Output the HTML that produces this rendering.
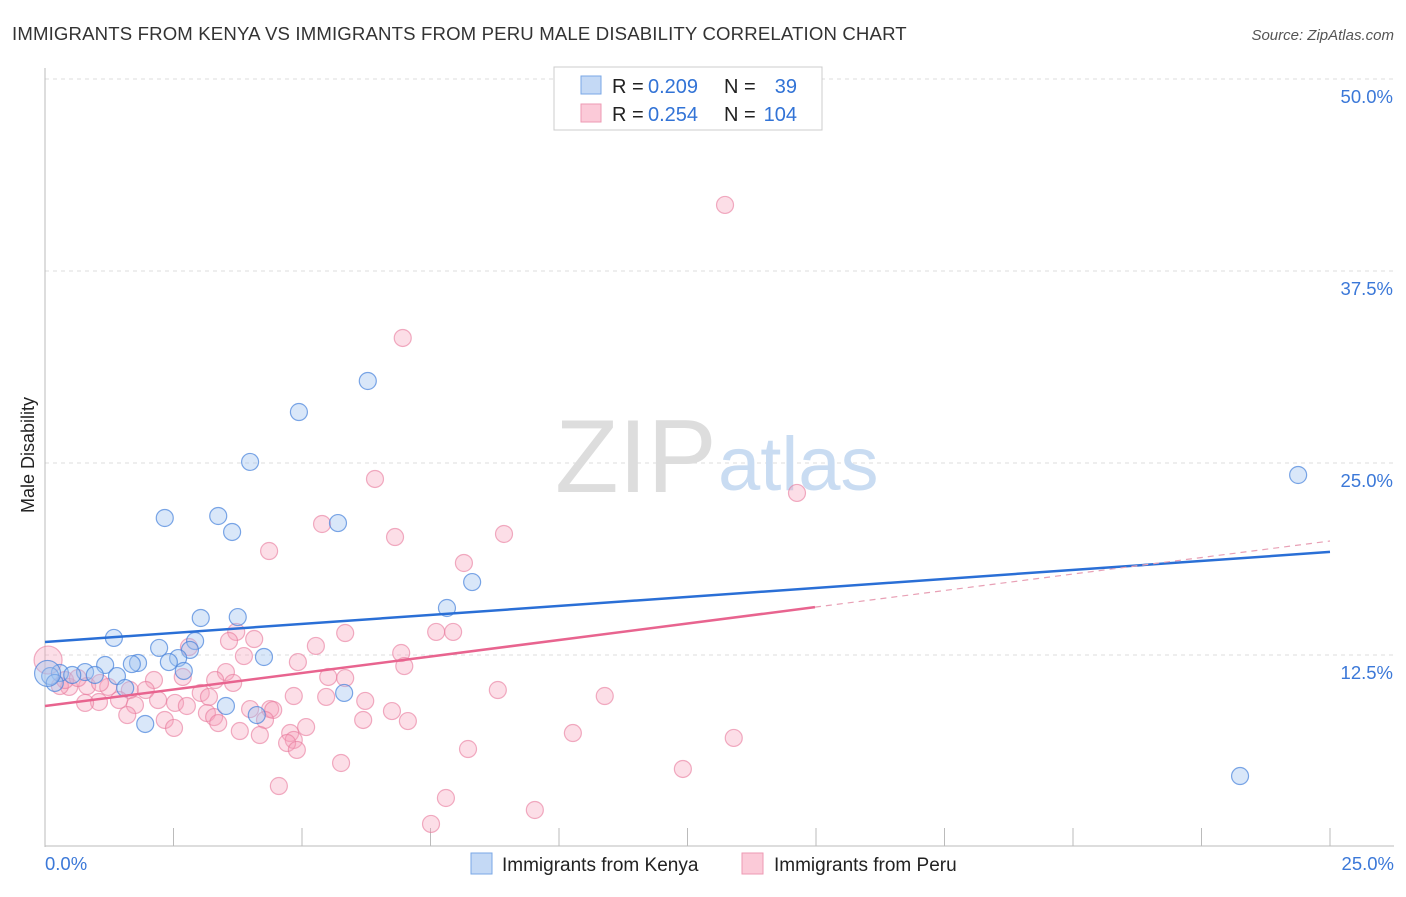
<!DOCTYPE html>
<html><head><meta charset="utf-8"><style>
body{margin:0;background:#fff;font-family:"Liberation Sans",sans-serif}
svg text{font-family:"Liberation Sans",sans-serif}
</style></head><body>
<svg id="chart" width="1406" height="892">
<text x="12" y="40" font-size="18.6" fill="#333" letter-spacing="0.15">IMMIGRANTS FROM KENYA VS IMMIGRANTS FROM PERU MALE DISABILITY CORRELATION CHART</text>
<text x="1394" y="40" font-size="15" fill="#555" font-style="italic" text-anchor="end">Source: ZipAtlas.com</text>
<text x="34" y="455" font-size="18" fill="#222" text-anchor="middle" transform="rotate(-90 34 455)">Male Disability</text>
<g id="grid"></g>
<g><text x="555" y="492" font-size="104" font-family="Liberation Serif" fill="#ddd">ZIP</text><text x="718" y="490" font-size="76" fill="#c9dcf2">atlas</text></g>
<g id="axes"></g>
<g id="marks"></g>
<g>
<rect x="554" y="67" width="268" height="63" fill="#fff" stroke="#ccc"/>
<rect x="581" y="76" width="20" height="18" fill="#c4d9f5" stroke="#7aa7e6"/>
<rect x="581" y="104" width="20" height="18" fill="#fbcad8" stroke="#ee9ab3"/>
<text x="612" y="93" font-size="20" fill="#222">R =</text><text x="648" y="93" font-size="20" fill="#3273d6">0.209</text>
<text x="724" y="93" font-size="20" fill="#222">N =</text><text x="797" y="93" font-size="20" fill="#3273d6" text-anchor="end">39</text>
<text x="612" y="121" font-size="20" fill="#222">R =</text><text x="648" y="121" font-size="20" fill="#3273d6">0.254</text>
<text x="724" y="121" font-size="20" fill="#222">N =</text><text x="797" y="121" font-size="20" fill="#3273d6" text-anchor="end">104</text>
</g>
<g>
<rect x="471" y="853" width="21" height="21" fill="#c4d9f5" stroke="#7aa7e6"/>
<text x="502" y="871" font-size="19" fill="#222">Immigrants from Kenya</text>
<rect x="742" y="853" width="21" height="21" fill="#fbcad8" stroke="#ee9ab3"/>
<text x="774" y="871" font-size="19" fill="#222">Immigrants from Peru</text>
</g>
</svg>
<script>
const yTicks=[12.5,25,37.5,50];
const yTickLabels=["12.5%","25.0%","37.5%","50.0%"];
const xTickLabels=["0.0%","25.0%"];
const kenyaX=[24.38,23.25,6.28,4.94,3.99,5.70,2.33,3.37,3.64,8.31,7.82,3.03,3.75,1.34,2.92,2.22,2.82,2.59,4.26,1.81,1.69,2.41,2.70,1.17,0.78,0.29,0.10,0.53,0.97,1.40,1.56,0.19,5.82,3.52,4.12,1.95,0.05];
const kenyaY=[24.22,4.62,30.34,28.32,25.07,21.09,21.42,21.55,20.51,17.25,15.56,14.91,14.97,13.61,13.41,12.96,12.83,12.30,12.37,11.98,11.91,12.04,11.46,11.85,11.39,11.33,11.13,11.20,11.20,11.13,10.35,10.68,10.03,9.18,8.59,8.01,11.3];
const peruX=[13.23,6.96,6.42,14.63,5.39,6.81,8.93,4.36,8.15,3.72,7.94,7.61,5.84,4.07,5.27,3.58,6.93,2.80,3.87,4.92,6.99,3.52,5.51,5.84,3.31,3.66,2.68,2.12,8.81,10.89,5.47,4.84,6.23,3.03,3.19,2.20,2.53,1.96,1.65,1.23,0.82,0.47,0.29,3.99,4.38,4.44,2.76,1.75,1.44,1.05,0.78,6.75,3.15,6.19,7.06,4.28,1.60,2.33,3.29,3.37,2.51,5.08,3.79,4.18,4.77,4.84,4.71,4.90,10.27,13.40,8.23,5.76,12.41,4.55,7.80,9.53,7.51,0.06,0.39,0.64,1.07];
const peruY=[41.80,33.14,23.96,23.05,21.03,20.18,20.38,19.27,18.49,14.0,14.0,14.0,13.93,13.54,13.09,13.41,12.63,13.02,12.43,12.04,11.78,11.39,11.07,11.00,10.87,10.68,11.07,10.87,10.22,9.83,9.77,9.83,9.51,10.03,9.77,9.57,9.38,10.22,10.22,10.42,10.48,10.42,10.48,8.98,8.98,8.92,9.18,9.24,9.57,9.44,9.38,8.85,8.72,8.27,8.20,8.27,8.59,8.27,8.46,8.07,7.75,7.81,7.55,7.29,7.42,6.97,6.77,6.32,7.42,7.10,6.38,5.47,5.08,3.97,3.19,2.41,1.50,12.17,10.87,11.00,10.68];
const kenyaTrend=[13.35,19.21];
const peruTrend=[9.18,19.92];
const peruSolidEnd=14.98;
const X0=45,X1=1330,Y0=847,PY=192/12.5;
const sx=v=>X0+(X1-X0)*v/25, sy=v=>Y0-v*PY;
const NS="http://www.w3.org/2000/svg";
function mk(tag,attrs,parent){const e=document.createElementNS(NS,tag);for(const k in attrs)e.setAttribute(k,attrs[k]);document.getElementById(parent).appendChild(e);return e;}
yTicks.forEach((t,i)=>{
 const l=mk('line',{x1:X0,x2:1394,y1:sy(t),y2:sy(t),stroke:'#ddd','stroke-dasharray':'4,4'},'grid');
 
 
 const tx=mk('text',{x:1393,y:sy(t)+24,'font-size':18.5,fill:'#3b78d8','text-anchor':'end'},'axes');
 tx.textContent=yTickLabels[i];
 
 
});
const ax=mk('line',{x1:X0,x2:X0,y1:68,y2:847,stroke:'#bbb'},'axes');


const bx=mk('line',{x1:X0,x2:1394,y1:846,y2:846,stroke:'#bbb'},'axes');


for(let i=0;i<=10;i++){const x=X0+i*128.5;const t=mk('line',{x1:x,x2:x,y1:828,y2:846,stroke:'#bbb'},'axes');
 
 }
xTickLabels.forEach((s,i)=>{const t=mk('text',{x:i?1394:45,y:870,'font-size':18.5,fill:'#3b78d8','text-anchor':i?'end':'start'},'axes');t.textContent=s;
 
 });
peruX.forEach((x,i)=>{const c=mk('circle',{cx:sx(x),cy:sy(peruY[i]),r:i==77?14:8.5,fill:'rgba(246,160,185,0.35)',stroke:'rgba(232,120,155,0.6)','stroke-width':1.2},'marks');
 
 });
kenyaX.forEach((x,i)=>{const c=mk('circle',{cx:sx(x),cy:sy(kenyaY[i]),r:i==36?13:8.5,fill:'rgba(160,195,240,0.4)',stroke:'rgba(70,130,220,0.7)','stroke-width':1.2},'marks');
 
 });
const kl=mk('line',{x1:sx(0),y1:sy(kenyaTrend[0]),x2:sx(25),y2:sy(kenyaTrend[1]),stroke:'#2a6fd6','stroke-width':2.5},'marks');


const pm=peruTrend[0]+(peruTrend[1]-peruTrend[0])*peruSolidEnd/25;
const pl=mk('line',{x1:sx(0),y1:sy(peruTrend[0]),x2:sx(peruSolidEnd),y2:sy(pm),stroke:'#e8648f','stroke-width':2.5},'marks');


const pd=mk('line',{x1:sx(peruSolidEnd),y1:sy(pm),x2:sx(25),y2:sy(peruTrend[1]),stroke:'#e8a0b5','stroke-width':1.2,'stroke-dasharray':'6,5'},'marks');


</script>
</body></html>
